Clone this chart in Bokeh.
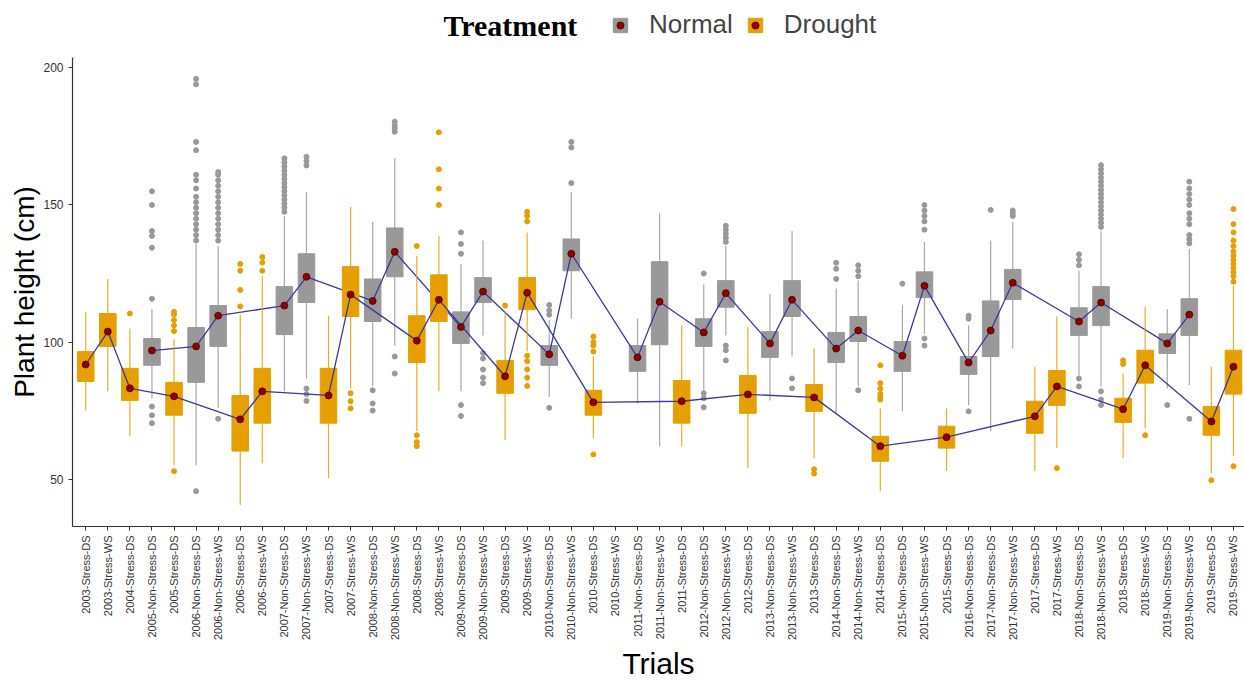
import numpy as np
from bokeh.plotting import figure
from bokeh.layouts import column
from bokeh.models import ColumnDataSource, Range1d, FixedTicker, Legend, LegendItem, Label
from bokeh.embed import file_html
from bokeh.resources import INLINE

# Trials in plotting order
trials = [
    "2003-Stress-DS", "2003-Stress-WS", "2004-Stress-DS", "2005-Non-Stress-DS", "2005-Stress-DS",
    "2006-Non-Stress-DS", "2006-Non-Stress-WS", "2006-Stress-DS", "2006-Stress-WS",
    "2007-Non-Stress-DS", "2007-Non-Stress-WS", "2007-Stress-DS", "2007-Stress-WS",
    "2008-Non-Stress-DS", "2008-Non-Stress-WS", "2008-Stress-DS", "2008-Stress-WS",
    "2009-Non-Stress-DS", "2009-Non-Stress-WS", "2009-Stress-DS", "2009-Stress-WS",
    "2010-Non-Stress-DS", "2010-Non-Stress-WS", "2010-Stress-DS", "2010-Stress-WS",
    "2011-Non-Stress-DS", "2011-Non-Stress-WS", "2011-Stress-DS",
    "2012-Non-Stress-DS", "2012-Non-Stress-WS", "2012-Stress-DS",
    "2013-Non-Stress-DS", "2013-Non-Stress-WS", "2013-Stress-DS",
    "2014-Non-Stress-DS", "2014-Non-Stress-WS", "2014-Stress-DS",
    "2015-Non-Stress-DS", "2015-Non-Stress-WS", "2015-Stress-DS",
    "2016-Non-Stress-DS",
    "2017-Non-Stress-DS", "2017-Non-Stress-WS", "2017-Stress-DS", "2017-Stress-WS",
    "2018-Non-Stress-DS", "2018-Non-Stress-WS", "2018-Stress-DS", "2018-Stress-WS",
    "2019-Non-Stress-DS", "2019-Non-Stress-WS", "2019-Stress-DS", "2019-Stress-WS",
]
treatment = ["Normal" if "Non-Stress" in t else "Drought" for t in trials]
groups = ["Normal", "Drought"]

# Box statistics (cm); None where a trial has no records
whisker_low = [75, 82, 65.6, 79.5, 55, 55, 76, 40.5, 55.8, 82, 86.7, 50.4, 83, 84, 98.7, 67.5, 82,
               82, 102.4, 64.2, 96.5, 80, 108.5, 65, None, 77.6, 62, 62, 82, 102.4, 54, 78.7, 94.7,
               57.6, 74, 84, 45.6, 74.7, 103, 52.9, 76.9, 67.5, 97.6, 52.9, 61.3, 87.8, 83.8, 57.6,
               68.5, 83, 84.2, 52, 58.4]
q1 = [85.6, 98.4, 78.7, 91.5, 73.3, 85.3, 98.4, 60.2, 70.4, 102.7, 114.4, 70.4, 109.3, 107.5, 123.8,
      92.5, 107.5, 99.5, 114.4, 81.3, 111.8, 91.5, 126, 73.3, None, 89.3, 99, 70.4, 98.4, 112.7, 74,
      94.4, 109.3, 74.7, 92.5, 100.2, 56.5, 89.3, 116.2, 61.3, 88.2, 94.7, 115.5, 66.7, 76.9, 102.4,
      106, 70.7, 85, 95.8, 102.4, 66, 81]
median = [91.8, 103.8, 83.1, 96.9, 80.2, 98.4, 109.6, 71.8, 82, 113.3, 123.8, 80.5, 117.3, 115, 132.9,
          100.5, 115.4, 105.5, 118.4, 87.5, 118, 95.5, 132.2, 78, None, 94.4, 114.7, 78.4, 103.5,
          117.8, 80.9, 99.5, 115.4, 79.8, 97.6, 104.2, 62, 95, 120.5, 65.3, 92.5, 104.2, 121.6, 72.9,
          83.8, 107.5, 114.4, 75.5, 91.5, 99.5, 110, 71, 91]
q3 = [96.5, 110.4, 90.4, 101.3, 85.3, 105.3, 113.3, 80.5, 90.4, 120.2, 132.2, 90.4, 127.5, 123, 141.6,
      109.6, 124.5, 111, 123.5, 93.3, 123.5, 98.7, 137.6, 82.4, None, 98.7, 129.3, 86, 108.5, 122.4,
      87.8, 103.8, 122.4, 84.5, 103.5, 109.3, 65.6, 100.2, 125.6, 69.3, 94.7, 115, 126.5, 78.4, 89.6,
      112.5, 120.2, 79.5, 97, 103, 115.8, 76.5, 97]
whisker_high = [111, 123, 104.9, 112, 101, 135.8, 135, 110, 124, 146, 154.7, 109.6, 149.3, 143.8, 167,
                131.5, 138.7, 128.5, 137, 111, 140, 108, 154.7, 94.7, None, 108.5, 147, 106, 121, 135,
                105.6, 117.6, 140.5, 97.6, 119.5, 122.4, 75.8, 113.3, 136.5, 75.8, 106, 137, 143.8, 91,
                109.3, 126, 140.5, 88.5, 112.9, 112, 134, 91, 120.5]
outliers = [
    [], [], [110.4],
    [70.4, 73.3, 76.5, 115.8, 134.4, 138.7, 140.5, 150, 155],
    [52.9, 104, 106, 108, 110, 111],
    [45.6, 137, 139, 141, 143, 145, 147, 149, 151, 153, 156, 159, 161, 170, 173, 194, 196],
    [72, 137, 139, 141, 143, 145, 147, 149, 151, 153, 155, 157, 159, 161, 162],
    [113, 119, 126, 128.5],
    [126, 129, 131],
    [147.5, 149, 150.5, 152, 153.5, 155, 156.5, 158, 159.5, 161, 162.5, 164, 165.5, 167],
    [78.5, 81, 83, 164.4, 166, 167.6],
    [],
    [75.8, 78.4, 81.3],
    [75, 77.6, 82.4],
    [88.5, 94.7, 176.7, 178, 179, 180.4],
    [62, 63.5, 66, 135],
    [150, 156, 163, 176.5],
    [73, 77, 132.2, 135.8, 140],
    [85, 87, 90, 94, 96],
    [113.3],
    [84, 87, 90, 93, 95, 144, 146, 147.5],
    [76, 110, 111.5, 113.5],
    [158, 171, 173],
    [59, 96.5, 98.7, 100, 102],
    [],
    [], [], [],
    [76.2, 79.5, 81.3, 125],
    [93.3, 97, 98.7, 136.5, 138, 139.5, 141, 142.4],
    [],
    [],
    [83.1, 86.7],
    [52, 53.6],
    [123, 126.7, 128.9],
    [82.4, 124, 126, 128],
    [79, 80, 81, 83, 85, 91.5],
    [121.3],
    [98.7, 101.3, 141, 144, 146, 148, 150],
    [],
    [74.7, 108.5, 109.6],
    [148.2],
    [146, 147, 148],
    [],
    [54],
    [83.8, 86.7, 128, 130, 132],
    [77, 79, 82, 142, 143.5, 145, 146.5, 148, 149.5, 151, 152.5, 154, 155.5, 157, 158.5, 160,
     161.5, 163, 164.5],
    [92, 93.3],
    [66],
    [77],
    [72, 136, 137.5, 139, 143, 145, 147, 150, 152, 154, 156, 158.5],
    [49.6],
    [54.7, 122, 124, 125.5, 127, 128.5, 130, 131.5, 133, 135, 137, 140, 143, 148.5],
]

fill = {"Normal": "#999999", "Drought": "#E69F00"}
line_color = "#3a3a9a"
dot_color = "#8b0000"
dot_edge = "#5a0000"

# ---- main panel ----
p = figure(width=1244, height=626, output_backend="svg", toolbar_location=None,
           x_range=Range1d(0.4, 53.5), y_range=Range1d(32.7, 203.8),
           min_border_left=72, min_border_right=0, min_border_top=0, min_border_bottom=154)
p.outline_line_color = None
p.xgrid.grid_line_color = None
p.ygrid.grid_line_color = None

sources = {}
for grp in groups:
    idx = [i for i, g in enumerate(treatment) if g == grp and median[i] is not None]
    src = ColumnDataSource(dict(
        x=[i + 1 for i in idx],
        lo=[whisker_low[i] for i in idx], q1=[q1[i] for i in idx], med=[median[i] for i in idx],
        q3=[q3[i] for i in idx], hi=[whisker_high[i] for i in idx],
    ))
    osrc = ColumnDataSource(dict(x=[i + 1 for i in idx for _ in outliers[i]],
                                 y=[v for i in idx for v in outliers[i]]))
    p.segment(x0="x", y0="lo", x1="x", y1="hi", source=src, line_color=fill[grp],
              line_width=1.2, line_alpha=0.85)
    p.vbar(x="x", bottom="q1", top="q3", width=0.75, source=src,
           fill_color=fill[grp], line_color=fill[grp], line_width=1)
    p.scatter(x="x", y="y", source=osrc, size=5, marker="circle",
              fill_color=fill[grp], line_color=fill[grp])
    p.line(x="x", y="med", source=src, line_color=line_color, line_width=1.3)
    sources[grp] = src

for grp in groups:
    p.scatter(x="x", y="med", source=sources[grp], size=7, marker="circle",
              fill_color=dot_color, line_color=dot_edge, line_width=0.8)

p.xaxis.ticker = FixedTicker(ticks=list(range(1, len(trials) + 1)))
p.xaxis.major_label_overrides = {i + 1: t for i, t in enumerate(trials)}
p.xaxis.major_label_orientation = np.pi / 2
p.yaxis.ticker = FixedTicker(ticks=[50, 100, 150, 200])
for ax in (p.xaxis, p.yaxis):
    ax.axis_line_color = "#333333"
    ax.axis_line_width = 1.2
    ax.major_tick_line_color = "#333333"
    ax.major_tick_out = 4
    ax.major_tick_in = 0
    ax.minor_tick_line_color = None
    ax.major_label_text_color = "#333333"
    ax.major_label_text_font = "Liberation Sans"
    ax.axis_label_text_font = "Liberation Sans"
    ax.axis_label_text_font_style = "normal"
    ax.axis_label_text_color = "black"
p.xaxis.major_label_text_font_size = "11px"
p.yaxis.major_label_text_font_size = "12px"
p.xaxis.axis_label = "Trials"
p.yaxis.axis_label = "Plant height (cm)"
p.xaxis.axis_label_text_font_size = "30px"
p.yaxis.axis_label_text_font_size = "28px"
p.xaxis.axis_label_standoff = 4
p.yaxis.axis_label_standoff = 0

# ---- legend strip across the top ----
# Key glyphs share the box sources; this strip's ranges keep their rows out of view.
head = figure(width=1244, height=57, output_backend="svg", toolbar_location=None,
              x_range=Range1d(100, 200), y_range=Range1d(200, 2000),
              min_border_left=0, min_border_right=0, min_border_top=0, min_border_bottom=0)
head.axis.visible = False
head.grid.visible = False
head.outline_line_color = None

items = []
for grp in groups:
    key_box = head.vbar(x="x", top="q3", bottom="q1", width=0.75, source=sources[grp],
                        fill_color=fill[grp], line_color=fill[grp])
    key_dot = head.scatter(x="x", y="med", source=sources[grp], size=6, marker="circle",
                           fill_color=dot_color, line_color=dot_edge, line_width=0.8)
    items.append(LegendItem(label=grp, renderers=[key_box, key_dot]))

legend = Legend(items=items, orientation="horizontal", location=(539, 17),
                glyph_width=18, glyph_height=18, label_standoff=20, spacing=13,
                label_text_font="Liberation Sans", label_text_font_size="26px",
                padding=0, margin=0, border_line_color=None, background_fill_alpha=0)
head.add_layout(legend)
head.add_layout(Label(x=371, y=32, x_units="screen", y_units="screen", text="Treatment",
                      text_font="Liberation Serif", text_font_style="bold", text_font_size="30px",
                      text_baseline="middle", text_align="left", text_color="black"))

open("out.html", "w").write(file_html(column(head, p, spacing=0), INLINE))
